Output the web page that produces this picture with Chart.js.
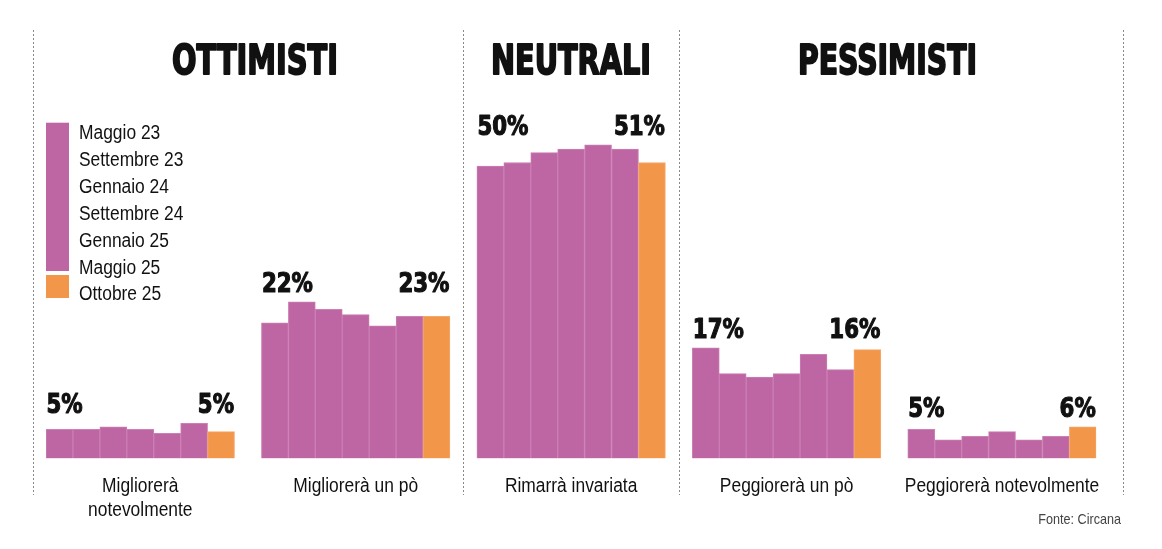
<!DOCTYPE html>
<html lang="it">
<head>
<meta charset="utf-8">
<title>Ottimisti, neutrali, pessimisti</title>
<script src="https://cdn.jsdelivr.net/npm/chart.js@4.4.1/dist/chart.umd.min.js"></script>
<style>
    html, body { margin: 0; padding: 0; background: #fff; }
    #wrap { width: 1162px; height: 549px; }
</style>
</head>
<body>
<div id="wrap"><canvas id="grafico" width="1162" height="549"></canvas></div>
<script>
/* -----------------------------
   DATI
----------------------------- */
const periodi = ["Maggio 23", "Settembre 23", "Gennaio 24", "Settembre 24", "Gennaio 25", "Maggio 25", "Ottobre 25"];
const categorie = [["Migliorerà", "notevolmente"], ["Migliorerà un pò"], ["Rimarrà invariata"], ["Peggiorerà un pò"], ["Peggiorerà notevolmente"]];
const gruppi = ["OTTIMISTI", "NEUTRALI", "PESSIMISTI"];

const migNotevolmente = [5.0, 5.0, 5.4, 5.0, 4.3, 6.0, 4.6];
const migUnPo = [23.2, 26.8, 25.5, 24.6, 22.7, 24.3, 24.3];
const invariata = [50.0, 50.6, 52.3, 52.9, 53.6, 52.9, 50.6];
const pegUnPo = [18.9, 14.5, 13.9, 14.5, 17.8, 15.2, 18.6];
const pegNotevolmente = [5.0, 3.2, 3.8, 4.6, 3.2, 3.8, 5.4];

// etichette stampate sopra la prima e l'ultima barra
const etichetteInizio = [5, 22, 50, 17, 5];
const etichetteFine = [5, 23, 51, 16, 6];

/* -----------------------------
   STILE
----------------------------- */
const VIOLA = "#be66a3";
const ARANCIO = "#f2964a";
const NERO = "#111";
const FONT_TESTO = "'Liberation Sans', Arial, sans-serif";
const FONT_FORTE = "'DejaVu Sans', sans-serif";

// posizione dei titoli (centro, larghezza) e linee tratteggiate (in slot)
const titoliX = [255, 571, 887.5];
const titoliW = [168, 162, 181];
const divisori = [-1, 15, 23, 39.5];

/* -----------------------------
   COSTRUZIONE SLOT
----------------------------- */
const serie = [migNotevolmente, migUnPo, invariata, pegUnPo, pegNotevolmente];
const slotValori = [];
const slotColori = [];
const slotBordi = [];
serie.forEach((valori, g) => {
    valori.forEach((v, i) => {
        const ultimo = i === valori.length - 1;
        slotValori.push(v);
        slotColori.push(ultimo ? ARANCIO : VIOLA);
        slotBordi.push(ultimo ? "#f5a86c" : "#cb7fb4");
    });
    if (g < serie.length - 1) {
        slotValori.push(null);
        slotColori.push("transparent");
        slotBordi.push("transparent");
    }
});
const slotEtichette = slotValori.map((_, i) => String(i));

function testo(ctx, str, x, y, font, sx, align, colore, spessore = 0) {
    ctx.save();
    ctx.font = font;
    ctx.fillStyle = colore;
    ctx.strokeStyle = colore;
    ctx.textBaseline = "alphabetic";
    ctx.textAlign = "left";
    const w = ctx.measureText(str).width * sx;
    let x0 = x;
    if (align === "center") x0 = x - w / 2;
    else if (align === "right") x0 = x - w;
    ctx.translate(x0, y);
    ctx.scale(sx, 1);
    ctx.fillText(str, 0, 0);
    if (spessore > 0) {
        ctx.lineWidth = spessore;
        ctx.lineJoin = "round";
        ctx.strokeText(str, 0, 0);
    }
    ctx.restore();
}

const decorazioni = {
    id: "decorazioni",
    beforeDatasetsDraw(chart) {
        const ctx = chart.ctx;
        const xs = chart.scales.x;
        ctx.save();
        ctx.strokeStyle = "#8a8a8a";
        ctx.lineWidth = 1;
        ctx.setLineDash([2, 2]);
        divisori.forEach(s => {
            const px = Math.round(xs.getPixelForValue(s)) + 0.5;
            ctx.beginPath();
            ctx.moveTo(px, 30);
            ctx.lineTo(px, 495);
            ctx.stroke();
        });
        ctx.restore();
    },
    afterDatasetsDraw(chart) {
        const ctx = chart.ctx;
        const xs = chart.scales.x;
        const ys = chart.scales.y;
        const slot = xs.getPixelForValue(1) - xs.getPixelForValue(0);

        // titoli
        gruppi.forEach((t, i) => {
            ctx.save();
            ctx.font = "bold 40px " + FONT_FORTE;
            const sx = (titoliW[i] - 2) / ctx.measureText(t).width;
            ctx.restore();
            testo(ctx, t, titoliX[i], 74, "bold 40px " + FONT_FORTE, sx, "center", NERO, 2);
        });

        // valori e categorie
        serie.forEach((valori, g) => {
            const inizio = g * 8;
            const sinistra = xs.getPixelForValue(inizio) - slot / 2;
            const destra = xs.getPixelForValue(inizio + valori.length - 1) + slot / 2;
            const yTop = ys.getPixelForValue(Math.max(...valori)) - 10;
            const fontVal = "bold 26px " + FONT_FORTE;
            testo(ctx, etichetteInizio[g] + "%", sinistra + 0.5, yTop, fontVal, 0.82, "left", NERO, 1.2);
            testo(ctx, etichetteFine[g] + "%", destra - 0.5, yTop, fontVal, 0.82, "right", NERO, 1.2);

            const centro = xs.getPixelForValue(inizio + 3);
            categorie[g].forEach((riga, r) => {
                testo(ctx, riga, centro, 492 + r * 24, "20px " + FONT_TESTO, 0.87, "center", NERO);
            });
        });

        // legenda
        const lx = xs.getPixelForValue(0) - slot / 2;
        ctx.fillStyle = VIOLA;
        ctx.fillRect(lx, 122.7, 23, 148.3);
        ctx.fillStyle = ARANCIO;
        ctx.fillRect(lx, 275, 23, 23);
        periodi.forEach((p, i) => {
            testo(ctx, p, 79, 139 + i * 26.9, "20px " + FONT_TESTO, 0.87, "left", NERO);
        });

        // fonte
        testo(ctx, "Fonte: Circana", 1121, 524, "14.5px " + FONT_TESTO, 0.87, "right", "#444");
    }
};

new Chart(document.getElementById("grafico"), {
    type: "bar",
    data: {
        labels: slotEtichette,
        datasets: [{
            data: slotValori,
            backgroundColor: slotColori,
            borderColor: slotBordi,
            borderWidth: 1,
            categoryPercentage: 1,
            barPercentage: 1
        }]
    },
    options: {
        responsive: false,
        animation: false,
        layout: { padding: { left: 46, right: 65.7, top: 107.5, bottom: 90.5 } },
        plugins: {
            legend: { display: false },
            tooltip: { enabled: false }
        },
        scales: {
            x: { display: false },
            y: { display: false, min: 0, max: 60 }
        }
    },
    plugins: [decorazioni]
});
</script>
</body>
</html>
